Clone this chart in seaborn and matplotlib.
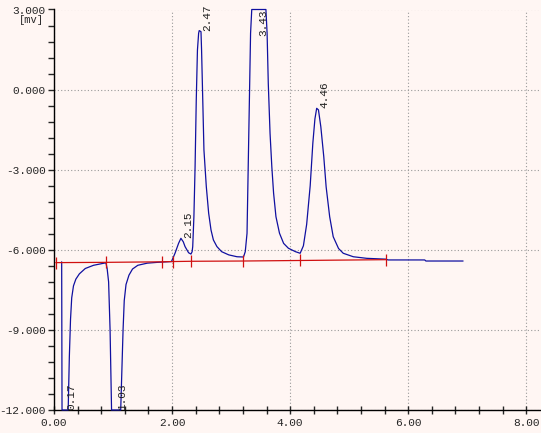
import numpy as np
import pandas as pd
import seaborn as sns
import matplotlib.pyplot as plt
from matplotlib.ticker import MultipleLocator, FormatStrFormatter

# chromatogram trace (time in min, signal in mV)
trace_t = [0.13, 0.136, 0.24, 0.26, 0.28, 0.30, 0.33, 0.37, 0.43, 0.53, 0.67, 0.85,
           0.88, 0.90, 0.925, 0.95, 0.975, 1.13, 1.15, 1.17, 1.19, 1.22, 1.27, 1.33,
           1.42, 1.58, 1.75, 1.99,
           2.05, 2.11, 2.15, 2.19, 2.22, 2.28, 2.32, 2.34, 2.35, 2.37, 2.39, 2.41,
           2.43, 2.45, 2.46, 2.49, 2.50, 2.52, 2.54, 2.58, 2.62, 2.66, 2.70, 2.76,
           2.84, 2.96, 3.10, 3.21, 3.24, 3.27, 3.29, 3.31, 3.33, 3.35, 3.59, 3.61,
           3.63, 3.66, 3.69, 3.72, 3.76, 3.82, 3.89, 3.97, 4.09, 4.17, 4.225, 4.28,
           4.34, 4.385, 4.42, 4.45, 4.48, 4.52, 4.57, 4.61, 4.67, 4.73, 4.82, 4.90,
           5.07, 5.30, 5.62, 5.66, 6.28, 6.30, 6.93]
trace_v = [-6.45, -12.0, -12.0, -10.0, -8.6, -7.8, -7.35, -7.1, -6.9, -6.7, -6.58, -6.5,
           -6.49, -6.7, -7.2, -9.0, -12.0, -12.0, -10.5, -9.0, -7.9, -7.3, -6.95, -6.72,
           -6.58, -6.5, -6.47, -6.44,
           -6.13, -5.76, -5.57, -5.70, -5.88, -6.11, -6.16, -6.07, -5.88, -4.76, -2.89, -0.39,
           1.48, 2.11, 2.21, 2.17, 1.48, -0.39, -2.26, -3.63, -4.63, -5.26, -5.63, -5.88,
           -6.07, -6.19, -6.26, -6.27, -6.07, -5.38, -2.89, -0.39, 2.11, 3.0, 3.0, 2.11,
           0.23, -1.64, -2.89, -3.88, -4.76, -5.38, -5.76, -5.94, -6.07, -6.13, -5.85, -5.05,
           -3.6, -2.0, -1.1, -0.70, -0.76, -1.39, -2.51, -3.64, -4.76, -5.51, -5.95, -6.13,
           -6.26, -6.32, -6.35, -6.38, -6.38, -6.42, -6.42]

# integration baseline and its peak boundaries
base_t = [0.03, 0.88, 1.83, 2.01, 2.32, 3.20, 4.17, 5.62]
base_v = [-6.48, -6.47, -6.45, -6.44, -6.43, -6.42, -6.40, -6.37]

# peak labels (retention time, where the label sits)
peak_rt = [0.17, 1.03, 2.15, 2.47, 3.43, 4.46]
peak_lbl = ["0.17", "1.03", "2.15", "2.47", "3.43", "4.46"]
peak_top = [-12.0, -12.0, -5.57, 2.21, 3.0, -0.70]

bg = "#fff6f3"
sns.set_style("ticks", {"axes.facecolor": bg, "figure.facecolor": bg})
plt.rcParams['font.family'] = ['Liberation Mono', 'DejaVu Sans']

fig = plt.figure(figsize=(5.41, 4.33), dpi=100)
ax = fig.add_axes([54 / 541, 23 / 433, 1 - 54 / 541, 400.5 / 433])

df = pd.DataFrame({"t": trace_t, "v": trace_v})
sns.lineplot(data=df, x="t", y="v", sort=False, estimator=None, color="#1010a0",
             linewidth=0.9, ax=ax, clip_on=False, zorder=3)
sns.lineplot(x=base_t, y=base_v, sort=False, estimator=None, color="#d01010",
             linewidth=0.9, ax=ax, zorder=4)
ax.plot(base_t, base_v, linestyle="none", marker="|", markersize=8,
        markeredgewidth=0.9, color="#d01010", zorder=4)

for rt, lbl, top in zip(peak_rt, peak_lbl, peak_top):
    va = "top" if top >= 3.0 else "bottom"
    ax.text(rt + 0.035, top, lbl, rotation=90, ha="left", va=va, fontsize=8,
            color="#202020", zorder=5)

ax.set_xlim(0, 8.25)
ax.set_ylim(-12, 3)
ax.xaxis.set_major_locator(MultipleLocator(2))
ax.xaxis.set_minor_locator(MultipleLocator(0.4))
ax.yaxis.set_major_locator(MultipleLocator(3))
ax.yaxis.set_minor_locator(MultipleLocator(0.6))
ax.xaxis.set_major_formatter(FormatStrFormatter("%.2f"))
ax.yaxis.set_major_formatter(FormatStrFormatter("%.3f"))
ax.tick_params(axis="x", which="both", direction="inout", length=6, width=1,
               labelsize=8, pad=3)
ax.tick_params(axis="y", which="both", direction="out", length=4, width=1,
               labelsize=8, pad=2)
ax.grid(True, which="major", color="#9a9a9a", linestyle=(0, (1, 2)), linewidth=0.8)
ax.set_xlabel("")
ax.set_ylabel("")
for s in ["top", "right"]:
    ax.spines[s].set_visible(False)
for s in ["left", "bottom"]:
    ax.spines[s].set_linewidth(1.0)
    ax.spines[s].set_color("black")

fig.text(19 / 541, 1 - 20 / 433, "[mv]", fontsize=7.5, ha="left", va="center")

fig.savefig("out.png", dpi=100, facecolor=bg)
